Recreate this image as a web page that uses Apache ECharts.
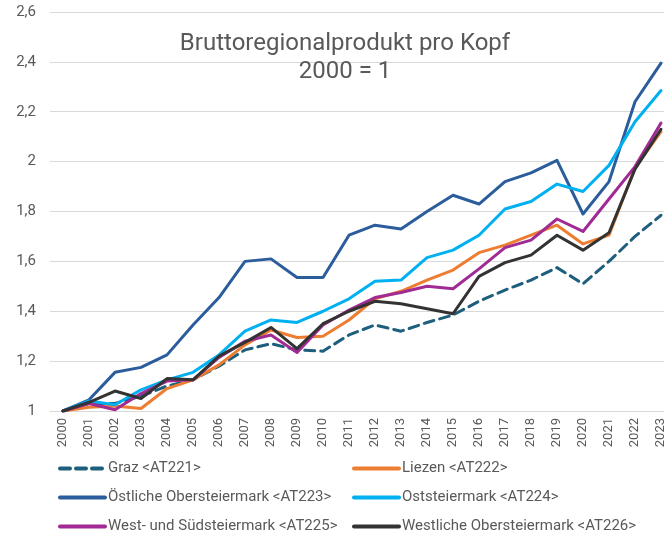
<!DOCTYPE html>
<html>
<head>
<meta charset="utf-8">
<script src="https://cdn.jsdelivr.net/npm/echarts@6/dist/echarts.min.js"></script>
<style>
  html, body { margin: 0; padding: 0; background: #fff; overflow: hidden; }
  /* Diagramm ist rechts angeschnitten wie im Original */
  #chart { width: 676px; height: 536px; }
</style>
</head>
<body>
<div id="chart"></div>
<script>
// Jahre (Kategorien)
const years = ['2000', '2001', '2002', '2003', '2004', '2005', '2006', '2007', '2008', '2009', '2010', '2011',
  '2012', '2013', '2014', '2015', '2016', '2017', '2018', '2019', '2020', '2021', '2022', '2023'];

// Index 2000 = 1
const graz = [1.00, 1.03, 1.03, 1.06, 1.10, 1.125, 1.18, 1.245, 1.27, 1.245, 1.24, 1.305,
  1.345, 1.32, 1.355, 1.385, 1.44, 1.485, 1.525, 1.575, 1.51, 1.60, 1.70, 1.785];
const liezen = [1.00, 1.015, 1.02, 1.01, 1.09, 1.125, 1.185, 1.265, 1.325, 1.295, 1.30, 1.365,
  1.45, 1.48, 1.525, 1.565, 1.635, 1.665, 1.705, 1.745, 1.67, 1.705, 1.975, 2.12];
const oestliche = [1.00, 1.045, 1.155, 1.175, 1.225, 1.345, 1.455, 1.60, 1.61, 1.535, 1.535, 1.705,
  1.745, 1.73, 1.80, 1.865, 1.83, 1.92, 1.955, 2.005, 1.79, 1.92, 2.24, 2.395];
const oststeiermark = [1.00, 1.04, 1.025, 1.085, 1.125, 1.155, 1.225, 1.32, 1.365, 1.355, 1.40, 1.45,
  1.52, 1.525, 1.615, 1.645, 1.705, 1.81, 1.84, 1.91, 1.88, 1.985, 2.16, 2.285];
const westSued = [1.00, 1.03, 1.005, 1.07, 1.12, 1.125, 1.215, 1.28, 1.305, 1.235, 1.345, 1.405,
  1.455, 1.475, 1.50, 1.49, 1.57, 1.655, 1.685, 1.77, 1.72, 1.85, 1.98, 2.155];
const westliche = [1.00, 1.035, 1.08, 1.05, 1.13, 1.125, 1.22, 1.275, 1.335, 1.25, 1.35, 1.40,
  1.44, 1.43, 1.41, 1.39, 1.54, 1.595, 1.625, 1.705, 1.645, 1.715, 1.97, 2.13];

const gray = '#595959';
const font = 'Roboto';

const mkLine = (name, data, color, type) => ({
  name: name,
  type: 'line',
  data: data,
  symbol: 'none',
  smooth: false,
  lineStyle: { color: color, width: 3, type: type || 'solid', cap: 'round', join: 'round' },
  itemStyle: { color: color },
  emphasis: { disabled: true }
});

const legendBase = {
  orient: 'vertical', top: 461, height: 100, padding: 0,
  itemWidth: 45, itemHeight: 14, itemGap: 14,
  itemStyle: { opacity: 0 },
  lineStyle: { width: 4 },
  textStyle: { color: gray, fontFamily: font, fontSize: 15, padding: [0, 0, 0, -2] }
};

const chart = echarts.init(document.getElementById('chart'));
chart.setOption({
  animation: false,
  backgroundColor: '#fff',
  title: {
    text: 'Bruttoregionalprodukt pro Kopf\n2000 = 1',
    left: 340,
    top: 25,
    textAlign: 'center',
    textStyle: { color: gray, fontFamily: font, fontSize: 24, fontWeight: 'normal', lineHeight: 28 }
  },
  legend: [
    Object.assign({}, legendBase, {
      left: 58,
      data: ['Graz <AT221>', 'Östliche Obersteiermark <AT223>', 'West- und Südsteiermark <AT225>']
    }),
    Object.assign({}, legendBase, {
      left: 352,
      data: ['Liezen <AT222>', 'Oststeiermark <AT224>', 'Westliche Obersteiermark <AT226>']
    })
  ],
  grid: { left: 50, top: 12, width: 624, height: 399, containLabel: false },
  xAxis: {
    type: 'category',
    data: years,
    boundaryGap: true,
    axisLine: { lineStyle: { color: '#d9d9d9', width: 1 } },
    axisTick: { show: false },
    axisLabel: { rotate: 90, color: gray, fontFamily: font, fontSize: 13, margin: 7, interval: 0 }
  },
  yAxis: {
    type: 'value',
    min: 1,
    max: 2.6,
    interval: 0.2,
    axisLine: { show: false },
    axisTick: { show: false },
    splitLine: { lineStyle: { color: '#d9d9d9', width: 1 } },
    axisLabel: {
      color: gray, fontFamily: font, fontSize: 15, margin: 14,
      formatter: v => String(Math.round(v * 10) / 10).replace('.', ',')
    }
  },
  series: [
    mkLine('Graz <AT221>', graz, '#1E5F7E', [10, 6]),
    mkLine('Liezen <AT222>', liezen, '#ED7D31'),
    mkLine('Östliche Obersteiermark <AT223>', oestliche, '#2B5C9C'),
    mkLine('Oststeiermark <AT224>', oststeiermark, '#00B0F0'),
    mkLine('West- und Südsteiermark <AT225>', westSued, '#A12A94'),
    mkLine('Westliche Obersteiermark <AT226>', westliche, '#333333')
  ]
});
</script>
</body>
</html>
